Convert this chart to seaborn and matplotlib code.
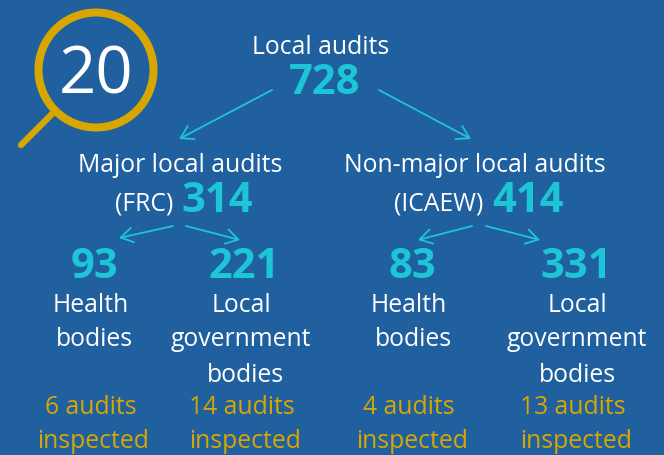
import matplotlib
matplotlib.use("Agg")
import matplotlib.pyplot as plt
import seaborn as sns
from matplotlib.patches import Circle, FancyArrowPatch

sns.set_theme(style="white")
plt.rcParams['font.family'] = ['Open Sans', 'DejaVu Sans']

BG = "#20609f"
TEAL = "#1cc6d6"
GOLD = "#d8a600"
WHITE = "#ffffff"

total_label = "Local audits"
total_value = 728
group_labels = ["Major local audits", "Non-major local audits"]
group_bodies = ["(FRC)", "(ICAEW)"]
group_values = [314, 414]
sub_values = [93, 221, 83, 331]
sub_labels = [["Health", "bodies"], ["Local", "government", "bodies"],
              ["Health", "bodies"], ["Local", "government", "bodies"]]
inspected = [["6 audits", "inspected"], ["14 audits", "inspected"],
             ["4 audits", "inspected"], ["13 audits", "inspected"]]
badge = "20"

sub_x = [94, 244, 412, 576]
label_line_x = [[90.5, 94], [242, 241, 245], [409, 413], [577, 577, 577]]
insp_line_x = [[91, 93.5], [242, 245], [409, 412.5], [573, 576.5]]

TXT = 17.8
NUM = 30

fig = plt.figure(figsize=(6.64, 4.55), dpi=100, facecolor=BG)
ax = fig.add_axes([0, 0, 1, 1], facecolor=BG)
ax.set_xlim(0, 664)
ax.set_ylim(455, 0)
ax.axis("off")

def t(x, y, s, size, color=WHITE, weight="normal", ha="center", va="center_baseline"):
    return ax.text(x, y, s, fontsize=size, color=color, fontweight=weight, ha=ha, va=va)

def arrow(x0, y0, x1, y1):
    ax.add_patch(FancyArrowPatch((x0, y0), (x1, y1), arrowstyle="->,head_length=3.6,head_width=2.2",
                                 color=TEAL, lw=1.3, shrinkA=0, shrinkB=0, mutation_scale=2.4))

# magnifier
ax.plot([53, 21], [113, 145], color=GOLD, lw=4.6, solid_capstyle="round")
ax.add_patch(Circle((96, 70), 57.5, fill=False, ec=GOLD, lw=5.8))
t(96, 68, badge, 47)

t(321, 44, total_label, TXT)
t(325, 78, str(total_value), NUM, TEAL, "bold")
arrow(272, 90, 179, 139)
arrow(379, 90, 471, 139)

t(180, 163, group_labels[0], TXT)
t(144, 201, group_bodies[0], TXT)
t(217, 196, str(group_values[0]), NUM, TEAL, "bold")
t(475, 163, group_labels[1], TXT)
t(439, 201, group_bodies[1], TXT)
t(528, 196, str(group_values[1]), NUM, TEAL, "bold")

arrow(173, 226, 119, 238)
arrow(186, 226, 240, 240)
arrow(472, 226, 418, 240)
arrow(486, 226, 540, 240)

LABEL_Y = [303, 337, 372]
INSP_Y = [405, 439]
for x, v in zip(sub_x, sub_values):
    t(x, 262, str(v), NUM, TEAL, "bold")
for xs, lines in zip(label_line_x, sub_labels):
    for x, y, s in zip(xs, LABEL_Y, lines):
        t(x, y, s, TXT)
for xs, lines in zip(insp_line_x, inspected):
    for x, y, s in zip(xs, INSP_Y, lines):
        t(x, y, s, TXT, GOLD)

fig.savefig("out.png", dpi=100, facecolor=BG)
